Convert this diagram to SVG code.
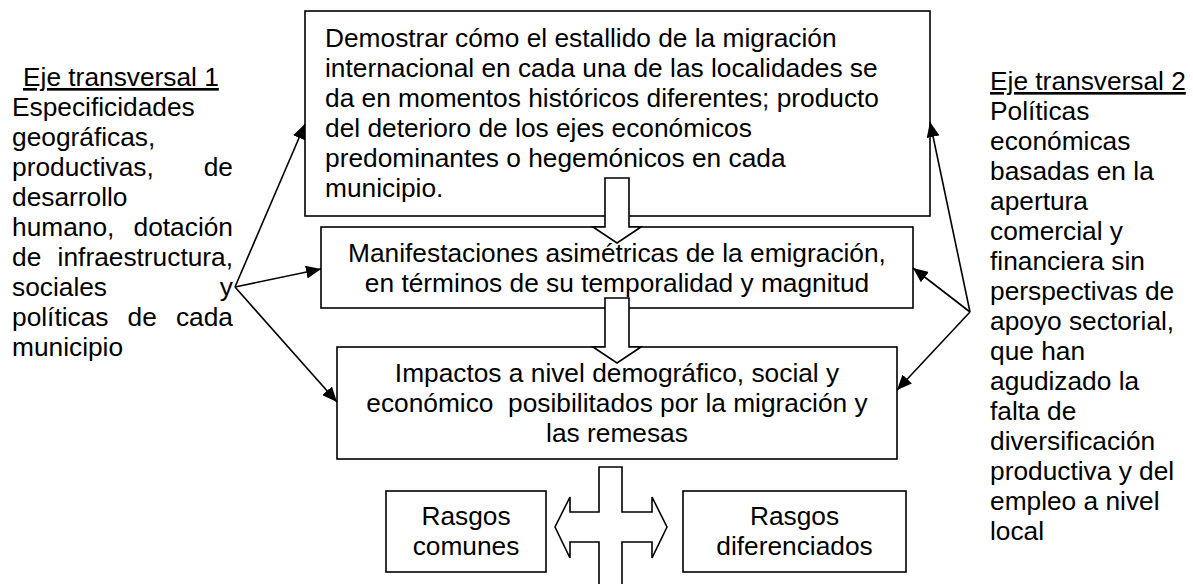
<svg xmlns="http://www.w3.org/2000/svg" width="1193" height="584" viewBox="0 0 1193 584">
<defs>
<style>
text{font-family:"Liberation Sans",Arial,sans-serif;font-size:26.3px;fill:#000}
.box{fill:#fff;stroke:#000;stroke-width:1.6}
.blk{fill:#fff;stroke:#000;stroke-width:1.6;stroke-linejoin:miter}
.con{fill:none;stroke:#000;stroke-width:1.6}
.c{text-anchor:middle}
.u{text-decoration:underline}
</style>
<marker id="ah" markerUnits="userSpaceOnUse" markerWidth="16" markerHeight="13" refX="15" refY="6.5" orient="auto">
<path d="M0,0 L15,6.5 L0,13 z" fill="#000"/>
</marker>
</defs>
<rect width="1193" height="584" fill="#fff"/>

<g id="eje1">
<text x="23" y="86" class="u">Eje transversal 1</text>
<text x="12" y="116">Especificidades</text>
<text x="12" y="146">geográficas,</text>
<text y="176"><tspan x="12">productivas,</tspan><tspan x="233" text-anchor="end">de</tspan></text>
<text x="12" y="206">desarrollo</text>
<text y="236"><tspan x="12">humano,</tspan><tspan x="233" text-anchor="end">dotación</tspan></text>
<text y="266"><tspan x="12">de</tspan><tspan x="233" text-anchor="end">infraestructura,</tspan></text>
<text y="296"><tspan x="12">sociales</tspan><tspan x="233" text-anchor="end">y</tspan></text>
<text y="326"><tspan x="12">políticas</tspan><tspan x="127.6">de</tspan><tspan x="233" text-anchor="end">cada</tspan></text>
<text x="12" y="356">municipio</text>
</g>

<g id="eje2">
<text x="990" y="90" class="u">Eje transversal 2</text>
<text x="990" y="120">Políticas</text>
<text x="990" y="150">económicas</text>
<text x="990" y="180">basadas en la</text>
<text x="990" y="210">apertura</text>
<text x="990" y="240">comercial y</text>
<text x="990" y="270">financiera sin</text>
<text x="990" y="300">perspectivas de</text>
<text x="990" y="330">apoyo sectorial,</text>
<text x="990" y="360">que han</text>
<text x="990" y="390">agudizado la</text>
<text x="990" y="420">falta de</text>
<text x="990" y="450">diversificación</text>
<text x="990" y="480">productiva y del</text>
<text x="990" y="510">empleo a nivel</text>
<text x="990" y="540">local</text>
</g>

<g id="demostrar">
<rect class="box" x="305" y="11" width="625" height="205"/>
<text x="325" y="47">Demostrar cómo el estallido de la migración</text>
<text x="325" y="77">internacional en cada una de las localidades se</text>
<text x="325" y="107">da en momentos históricos diferentes; producto</text>
<text x="325" y="137">del deterioro de los ejes económicos</text>
<text x="325" y="167">predominantes o hegemónicos en cada</text>
<text x="325" y="197">municipio.</text>
</g>

<g id="manifestaciones">
<rect class="box" x="321" y="227" width="592" height="81"/>
<text x="617" y="262" class="c">Manifestaciones asimétricas de la emigración,</text>
<text x="617" y="292" class="c">en términos de su temporalidad y magnitud</text>
</g>

<g id="impactos">
<rect class="box" x="337" y="347" width="560" height="112"/>
<text x="617" y="382" class="c">Impactos a nivel demográfico, social y</text>
<text x="617" y="412" class="c" xml:space="preserve">económico  posibilitados por la migración y</text>
<text x="617" y="442" class="c">las remesas</text>
</g>

<g id="comunes">
<rect class="box" x="386" y="491" width="160" height="81"/>
<text x="466" y="525" class="c">Rasgos</text>
<text x="466" y="555" class="c">comunes</text>
</g>

<g id="diferenciados">
<rect class="box" x="683" y="491" width="223" height="81"/>
<text x="794.5" y="525" class="c">Rasgos</text>
<text x="794.5" y="555" class="c">diferenciados</text>
</g>

<g id="connectors">
<polygon class="blk" points="605,178 629,178 629,227 641,227 617,243 593,227 605,227"/>
<polygon class="blk" points="605,298 629,298 629,347 641,347 617,363 593,347 605,347"/>
<polygon class="blk" points="599,467 622,467 622,512 652,512 652,497 667,527 652,558 652,542 622,542 622,592 599,592 599,542 570,542 570,558 555,527 570,497 570,512 599,512"/>
<line class="con" x1="235" y1="287" x2="305" y2="124" marker-end="url(#ah)"/>
<line class="con" x1="235" y1="287" x2="321" y2="269" marker-end="url(#ah)"/>
<line class="con" x1="235" y1="287" x2="337" y2="402" marker-end="url(#ah)"/>
<line class="con" x1="970" y1="312" x2="930" y2="122" marker-end="url(#ah)"/>
<line class="con" x1="970" y1="312" x2="913" y2="268" marker-end="url(#ah)"/>
<line class="con" x1="970" y1="312" x2="897" y2="390" marker-end="url(#ah)"/>
</g>
</svg>
